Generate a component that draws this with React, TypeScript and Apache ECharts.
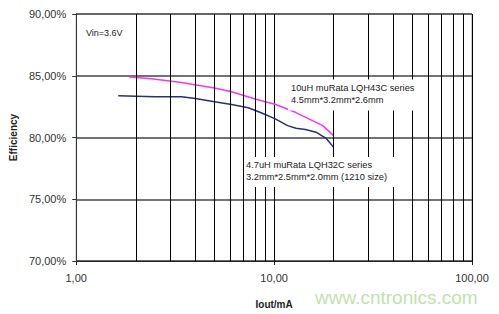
import React, { useEffect, useRef } from "react";
import * as echarts from "echarts";

const xMinorGrid = [2, 3, 4, 5, 6, 7, 8, 9, 20, 30, 40, 50, 60, 70, 80, 90];

const iout10uH = [1.85, 2.4, 3.4, 5.0, 6.1, 8.1, 10.2, 12.9, 16.3, 17.6, 20];
const eff10uH = [84.9, 84.75, 84.45, 84.0, 83.7, 83.1, 82.67, 82.02, 81.23, 80.96, 80.15];

const iout47uH = [1.63, 2.5, 3.4, 4.0, 5.0, 6.1, 7.4, 8.6, 10.2, 11.7, 12.9, 14.4, 16.3, 18.4, 20];
const eff47uH = [83.38, 83.3, 83.3, 83.15, 82.9, 82.67, 82.41, 82.0, 81.49, 80.96, 80.75, 80.65, 80.43, 79.9, 79.2];

const vinLabel = "Vin=3.6V";
const label10uH = ["10uH muRata LQH43C series", "4.5mm*3.2mm*2.6mm"];
const label47uH = ["4.7uH muRata LQH32C series", "3.2mm*2.5mm*2.0mm (1210 size)"];
const watermark = "www.cntronics.com";

const FONT = "Liberation Sans, Arial, sans-serif";

export default function App() {
  const ref = useRef<HTMLDivElement>(null);
  useEffect(() => {
    if (!ref.current) return;
    const chart = echarts.init(ref.current, undefined, { renderer: "svg" });
    const fmt = (v: number) => v.toFixed(2).replace(".", ",");
    chart.setOption({
      animation: false,
      backgroundColor: "#fff",
      textStyle: { fontFamily: FONT },
      grid: {
        left: 74,
        right: 27,
        top: 14,
        bottom: 47,
        show: true,
        borderColor: "#999",
        borderWidth: 1,
      },
      xAxis: {
        type: "log",
        logBase: 10,
        min: 1,
        max: 100,
        name: "Iout/mA",
        nameLocation: "middle",
        nameGap: 38,
        nameTextStyle: { fontWeight: "bold", fontSize: 10, color: "#222", fontFamily: FONT },
        axisLine: { show: true, lineStyle: { color: "#222", width: 1 } },
        axisTick: { show: true, length: 4, lineStyle: { color: "#222" } },
        axisLabel: { formatter: fmt, fontSize: 11, color: "#333", margin: 11, fontFamily: FONT },
        splitLine: { show: true, lineStyle: { color: "#000", width: 1 } },
      },
      yAxis: {
        type: "value",
        min: 70,
        max: 90,
        interval: 5,
        name: "Efficiency",
        nameLocation: "middle",
        nameGap: 56,
        nameTextStyle: { fontWeight: "bold", fontSize: 10, color: "#222", fontFamily: FONT },
        axisLine: { show: true, lineStyle: { color: "#333", width: 1 } },
        axisTick: { show: true, length: 4, lineStyle: { color: "#333" } },
        axisLabel: {
          formatter: (v: number) => fmt(v) + "%",
          fontSize: 11,
          color: "#333",
          margin: 10,
          fontFamily: FONT,
        },
        splitLine: { show: true, lineStyle: { color: "#444", width: 1.5 } },
      },
      series: [
        {
          type: "line",
          data: [],
          z: 1,
          silent: true,
          markLine: {
            silent: true,
            symbol: ["none", "none"],
            label: { show: false },
            lineStyle: { color: "#000", width: 1, type: "solid" },
            emphasis: { disabled: true },
            data: xMinorGrid.map((v) => ({ xAxis: v })),
          },
        },
        {
          type: "line",
          name: "10uH",
          z: 3,
          showSymbol: false,
          data: iout10uH.map((x, i) => [x, eff10uH[i]]),
          lineStyle: { color: "#ff33ee", width: 1.5 },
          itemStyle: { color: "#ff33ee" },
        },
        {
          type: "line",
          name: "4.7uH",
          z: 3,
          showSymbol: false,
          data: iout47uH.map((x, i) => [x, eff47uH[i]]),
          lineStyle: { color: "#2a2f78", width: 1.5 },
          itemStyle: { color: "#2a2f78" },
        },
      ],
      graphic: [
        {
          type: "text",
          x: 86,
          y: 33,
          z: 10,
          style: { text: vinLabel, fontSize: 9, fill: "#222", font: `9px ${FONT}`, verticalAlign: "middle" },
        },
        {
          type: "group",
          z: 10,
          children: [
            { type: "rect", shape: { x: 288, y: 79.5, width: 128, height: 31 }, style: { fill: "#fff" }, z: 10 },
            {
              type: "text",
              x: 291,
              y: 88,
              z: 11,
              style: { text: label10uH[0], font: `9.3px ${FONT}`, fill: "#222", verticalAlign: "middle" },
            },
            {
              type: "text",
              x: 291,
              y: 100,
              z: 11,
              style: { text: label10uH[1], font: `9.3px ${FONT}`, fill: "#222", verticalAlign: "middle" },
            },
          ],
        },
        {
          type: "group",
          z: 10,
          children: [
            { type: "rect", shape: { x: 245, y: 157, width: 155, height: 30 }, style: { fill: "#fff" }, z: 10 },
            {
              type: "text",
              x: 246,
              y: 165,
              z: 11,
              style: { text: label47uH[0], font: `9.3px ${FONT}`, fill: "#222", verticalAlign: "middle" },
            },
            {
              type: "text",
              x: 246,
              y: 177,
              z: 11,
              style: { text: label47uH[1], font: `9.3px ${FONT}`, fill: "#222", verticalAlign: "middle" },
            },
          ],
        },
        {
          type: "text",
          x: 315,
          y: 297,
          z: 12,
          style: { text: watermark, font: `19px ${FONT}`, fill: "#c2e2ae", verticalAlign: "middle" },
        },
      ],
    });
    return () => chart.dispose();
  }, []);
  return <div ref={ref} style={{ position: "fixed", left: 0, top: 0, width: 499, height: 314 }} />;
}
